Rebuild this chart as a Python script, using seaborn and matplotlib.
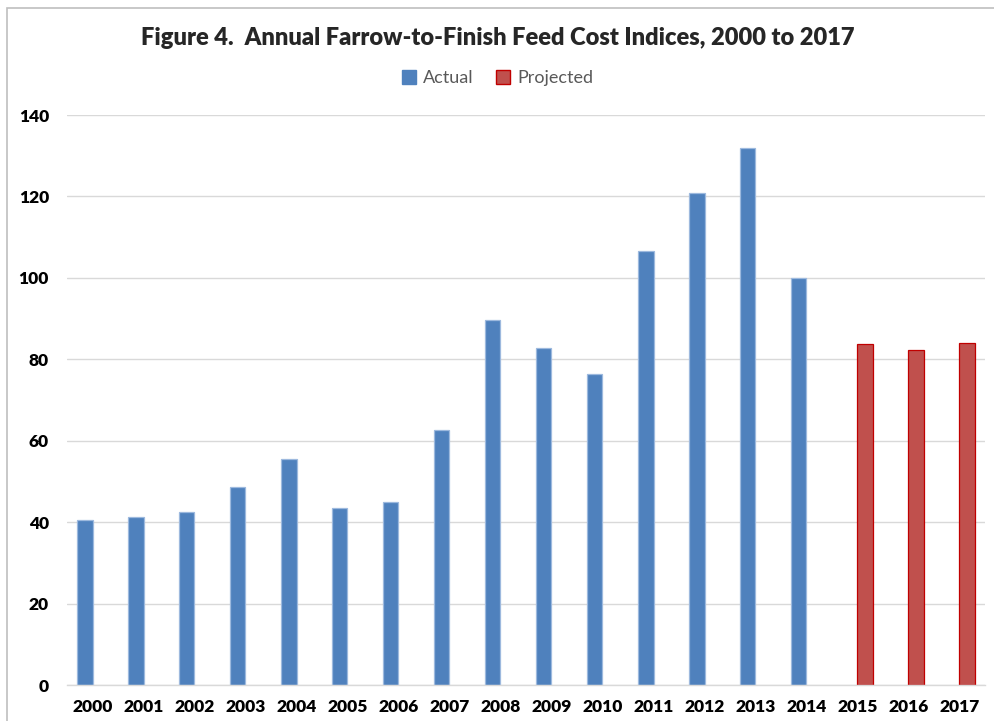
import matplotlib
matplotlib.use("Agg")
import matplotlib.pyplot as plt
from matplotlib.patches import Rectangle
import seaborn as sns
import pandas as pd

# data
years = [str(y) for y in range(2000, 2018)]
actual = [40.5, 41.3, 42.6, 48.6, 55.5, 43.5, 45.0, 62.6, 89.7, 82.8,
          76.4, 106.5, 120.8, 131.9, 100.0]
projected = [83.8, 82.3, 84.0]

df = pd.DataFrame({
    'year': years,
    'index': actual + projected,
    'type': ['Actual'] * len(actual) + ['Projected'] * len(projected),
})

sns.set_style("white")
plt.rcParams['font.family'] = ['Lato', 'DejaVu Sans']

fig = plt.figure(figsize=(9.95, 7.21), dpi=100)
ax = fig.add_axes([67 / 995, 36 / 721, 918 / 995, 570 / 721])

sns.barplot(data=df, x='year', y='index', hue='type', order=years,
            hue_order=['Actual', 'Projected'],
            palette={'Actual': '#4F81BD', 'Projected': '#C0504D'},
            saturation=1, width=0.6, dodge=True, ax=ax, legend=False)

for bar in ax.patches:
    fc = bar.get_facecolor()
    if fc[0] > 0.6:
        bar.set_edgecolor('#C00000')
    else:
        bar.set_edgecolor('#9DB9DE')
    bar.set_linewidth(0.9)

ax.set_ylim(0, 140)
ax.set_yticks(range(0, 141, 20))
ax.set_xlim(-0.5, len(years) - 0.5)
ax.yaxis.grid(True, color='#D9D9D9', linewidth=1)
ax.set_axisbelow(True)
for s in ['top', 'right', 'left']:
    ax.spines[s].set_visible(False)
ax.spines['bottom'].set_color('#D9D9D9')
ax.spines['bottom'].set_linewidth(1)
ax.tick_params(axis='both', length=0, labelsize=12.5)
ax.tick_params(axis='y', pad=13)
ax.tick_params(axis='x', pad=10)
for lab in ax.get_xticklabels() + ax.get_yticklabels():
    lab.set_fontweight('heavy')
    lab.set_color('black')
ax.set_xlabel('')
ax.set_ylabel('')

fig.text(0.5, 1 - 38 / 721, 'Figure 4.  Annual Farrow-to-Finish Feed Cost Indices, 2000 to 2017',
         ha='center', va='center', fontsize=17, fontweight='heavy')

handles = [Rectangle((0, 0), 1, 1, facecolor='#4F81BD', edgecolor='#4F81BD'),
           Rectangle((0, 0), 1, 1, facecolor='#C0504D', edgecolor='#C00000')]
fig.legend(handles, ['Actual', 'Projected'], loc='center',
           bbox_to_anchor=(0.5, 1 - 78 / 721), ncol=2, frameon=False,
           fontsize=13, labelcolor='#595959', handlelength=0.8,
           handleheight=0.8, handletextpad=0.4, columnspacing=1.2)

# chart frame
fig.patches.append(Rectangle((7 / 995, -0.05), 1.0, 1 - 8 / 721 + 0.05,
                             transform=fig.transFigure, fill=False,
                             edgecolor='#BFBFBF', linewidth=1.2))

fig.savefig('out.png', dpi=100)
